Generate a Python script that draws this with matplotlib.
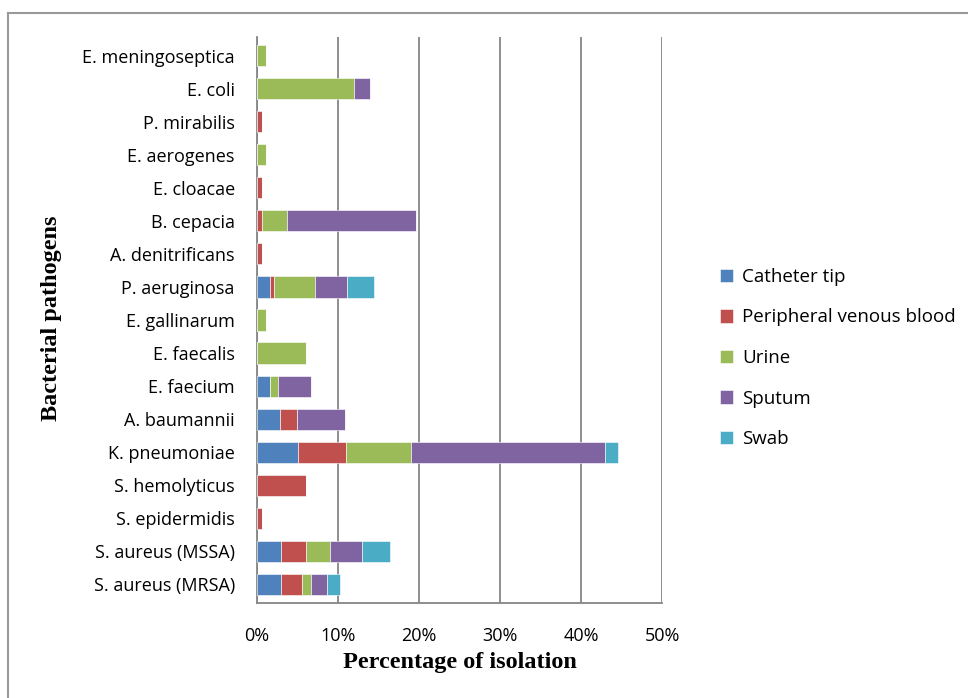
import numpy as np
import matplotlib.pyplot as plt
from matplotlib.lines import Line2D

pathogens = ["S. aureus (MRSA)", "S. aureus (MSSA)", "S. epidermidis", "S. hemolyticus",
             "K. pneumoniae", "A. baumannii", "E. faecium", "E. faecalis", "E. gallinarum",
             "P. aeruginosa", "A. denitrificans", "B. cepacia", "E. cloacae", "E. aerogenes",
             "P. mirabilis", "E. coli", "E. meningoseptica"]

catheter = [3.0, 3.0, 0, 0, 5.0, 2.9, 1.6, 0, 0, 1.6, 0, 0, 0, 0, 0, 0, 0]
blood = [2.6, 3.0, 0.65, 6.0, 6.0, 2.0, 0, 0, 0, 0.5, 0.65, 0.65, 0.65, 0, 0.65, 0, 0]
urine = [1.1, 3.0, 0, 0, 8.0, 0, 1.0, 6.0, 1.05, 5.1, 0, 3.0, 0, 1.05, 0, 12.0, 1.05]
sputum = [1.9, 4.0, 0, 0, 24.0, 6.0, 4.1, 0, 0, 3.9, 0, 16.0, 0, 0, 0, 2.0, 0]
swab = [1.6, 3.4, 0, 0, 1.6, 0, 0, 0, 0, 3.3, 0, 0, 0, 0, 0, 0, 0]

series = [("Catheter tip", catheter, "#4F81BD"),
          ("Peripheral venous blood", blood, "#C0504D"),
          ("Urine", urine, "#9BBB59"),
          ("Sputum", sputum, "#8064A2"),
          ("Swab", swab, "#4BACC6")]

tick_font = "Open Sans"

fig = plt.figure(figsize=(9.68, 6.98), dpi=100)
ax = fig.add_axes([257 / 968, 1 - 603 / 698, 405 / 968, 566 / 698])

y = np.arange(len(pathogens))
left = np.zeros(len(pathogens))
for name, vals, col in series:
    vals = np.array(vals)
    ax.barh(y, vals, left=left, height=0.64, color=col, label=name,
            edgecolor="white", linewidth=0.4, zorder=3)
    left += vals

ax.set_xlim(0, 50)
ax.set_ylim(-0.56, len(pathogens) - 0.44)
ax.set_xticks(np.arange(0, 51, 10))
ax.set_xticklabels([f"{v}%" for v in range(0, 51, 10)], fontfamily=tick_font, fontsize=13)
ax.set_yticks(y)
ax.set_yticklabels(pathogens, fontfamily=tick_font, fontsize=13)
ax.tick_params(length=0)
ax.tick_params(axis="y", pad=16)
ax.tick_params(axis="x", pad=17)
ax.grid(axis="x", color="#868686", linewidth=1.3, zorder=0)
for s in ["top", "right"]:
    ax.spines[s].set_visible(False)
ax.spines["left"].set_color("#868686")
ax.spines["left"].set_linewidth(1.3)
ax.spines["bottom"].set_color("#868686")
ax.spines["bottom"].set_linewidth(1.3)

ax.set_xlabel("Percentage of isolation", fontfamily="Liberation Serif", fontweight="bold",
              fontsize=17.5, labelpad=5)
fig.text(52 / 968, 1 - 318 / 698, "Bacterial pathogens", rotation=90, ha="center", va="center",
         fontfamily="Liberation Serif", fontweight="bold", fontsize=17.5)

fig.legend(loc="center left", bbox_to_anchor=(703 / 968, 1 - 358 / 698), frameon=False,
           handlelength=0.7, handleheight=0.7, handletextpad=0.5, labelspacing=1.2,
           prop={"family": tick_font, "size": 13.5})

# outer chart frame
fig.add_artist(Line2D([8 / 968, 8 / 968], [0, 1 - 13 / 698], color="#999999", linewidth=1.5))
fig.add_artist(Line2D([8 / 968, 1], [1 - 13 / 698, 1 - 13 / 698], color="#999999", linewidth=1.5))

fig.savefig("out.png", dpi=100)
